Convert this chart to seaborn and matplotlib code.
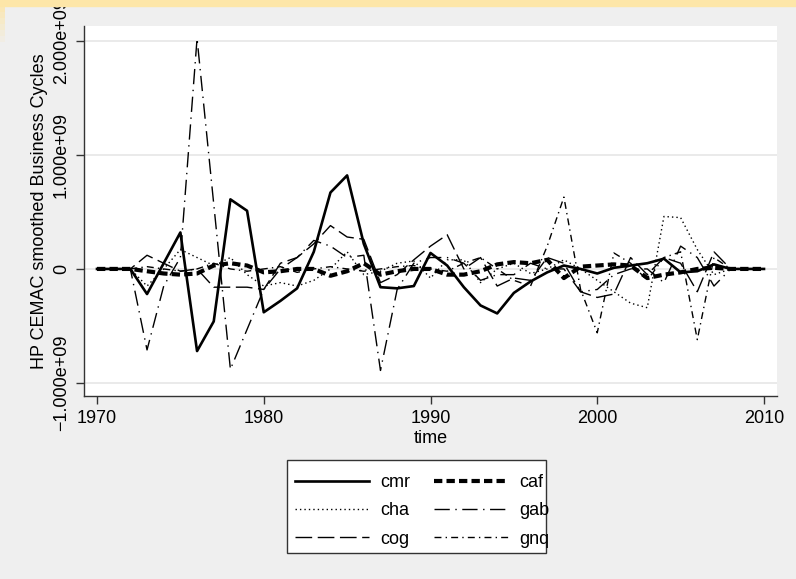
import numpy as np
import pandas as pd
import matplotlib
matplotlib.use("Agg")
import matplotlib.pyplot as plt
import seaborn as sns
from matplotlib.patches import Rectangle

years = list(range(1970, 2011))

# cycles in units of 1e9
cmr = [0, 0, 0, -0.22, 0.05, 0.32, -0.72, -0.46, 0.61, 0.51,
       -0.38, -0.28, -0.17, 0.15, 0.67, 0.82, 0.22, -0.16, -0.17, -0.15,
       0.14, 0.03, -0.16, -0.32, -0.39, -0.21, -0.11, -0.03, 0.03, 0.0,
       -0.04, 0.01, 0.03, 0.05, 0.09, -0.03, -0.02, 0.04, 0.0, 0.0, 0.0]
cha = [0, 0, 0, -0.15, 0.0, 0.17, 0.1, 0.03, 0.1, -0.05,
       -0.15, -0.12, -0.15, -0.1, 0.0, 0.15, -0.05, -0.02, 0.05, 0.07,
       -0.08, 0.08, 0.08, -0.12, 0.0, 0.05, -0.04, 0.0, 0.08, 0.0,
       -0.1, -0.2, -0.3, -0.34, 0.46, 0.45, 0.17, -0.05, 0.0, 0.0, 0.0]
cog = [0, 0, 0, 0.12, 0.05, -0.02, 0.0, -0.16, -0.16, -0.16,
       -0.18, 0.05, 0.1, 0.22, 0.38, 0.28, 0.26, -0.12, -0.05, 0.08,
       0.2, 0.3, 0.0, 0.1, -0.15, -0.08, -0.1, 0.1, 0.05, -0.2,
       -0.25, -0.22, 0.1, -0.05, 0.1, 0.05, -0.2, 0.15, 0.0, 0.0, 0.0]
caf = [0, 0, 0, -0.02, -0.04, -0.05, -0.04, 0.03, 0.05, 0.03,
       -0.03, -0.02, 0.0, 0.0, -0.06, -0.02, 0.05, -0.05, -0.02, 0.0,
       0.0, -0.05, -0.05, -0.02, 0.04, 0.06, 0.05, 0.08, -0.08, 0.02,
       0.03, 0.04, 0.03, -0.08, -0.05, -0.03, 0.0, 0.01, 0.0, 0.0, 0.0]
gab = [0, 0, 0, -0.71, -0.15, 0.1, 2.02, 0.57, -0.88, -0.53,
       -0.18, 0.0, 0.1, 0.25, 0.2, 0.1, 0.12, -0.89, -0.18, 0.05,
       0.1, 0.1, 0.05, -0.1, -0.05, -0.05, 0.05, 0.0, 0.0, -0.2,
       -0.18, -0.05, 0.0, 0.0, -0.12, 0.2, 0.1, -0.15, 0.0, 0.0, 0.0]
gnq = [0, 0, 0, 0.02, 0.0, -0.02, 0.0, 0.05, 0.0, -0.02,
       0.0, 0.02, -0.03, 0.0, 0.02, 0.0, -0.02, 0.0, 0.02, 0.03,
       0.0, -0.02, 0.05, 0.1, 0.0, -0.1, -0.15, 0.2, 0.63, -0.18,
       -0.56, 0.14, 0.05, -0.1, 0.1, 0.15, -0.62, 0.1, 0.0, 0.0, 0.0]

names = ["cmr", "cha", "cog", "caf", "gab", "gnq"]
series = [cmr, cha, cog, caf, gab, gnq]
widths = [1.9, 1.0, 1.0, 3.0, 1.0, 1.0]
styles = ["-", (0, (1, 2.2)), (0, (12, 4)), (0, (6, 3)),
          (0, (11, 4, 1, 4)), (0, (5, 3, 1, 3))]

plt.rcParams["font.family"] = ["Liberation Sans", "DejaVu Sans"]
plt.rcParams["lines.scale_dashes"] = False

fig = plt.figure(figsize=(7.96, 5.79), dpi=100, facecolor="#efefef")
ax = fig.add_axes([84 / 796, 1 - 396 / 579, 693 / 796, 370 / 579])
ax.set_facecolor("white")

for name, vals, lw, ls in zip(names, series, widths, styles):
    df = pd.DataFrame({"time": years, "v": np.array(vals) * 1e9})
    sns.lineplot(data=df, x="time", y="v", ax=ax, color="black",
                 linewidth=lw, linestyle=ls, label=name, legend=False)

ax.set_xlim(1969.22, 2010.78)
ax.set_ylim(-1.114e9, 2.13e9)
ax.set_xticks([1970, 1980, 1990, 2000, 2010])
yt = [-1e9, 0, 1e9, 2e9]
ax.set_yticks(yt)
ax.set_yticklabels(["\u22121.000e+09", "0", "1.000e+09", "2.000e+09"],
                   rotation=90, va="center")
ax.grid(axis="y", color="#e6e6e6", linewidth=1.2)
ax.set_axisbelow(True)
for s in ["top", "right"]:
    ax.spines[s].set_visible(False)
for s in ["left", "bottom"]:
    ax.spines[s].set_color("#333333")
    ax.spines[s].set_linewidth(1.0)
ax.tick_params(direction="out", length=6, width=1.0, color="#333333",
               labelsize=13, pad=4)
ax.set_xlabel("time", fontsize=13, labelpad=2)
ax.set_ylabel("HP CEMAC smoothed Business Cycles", fontsize=13, labelpad=4)

# legend box drawn by hand so it hugs the entries like Stata's
fig.patches.append(Rectangle((287 / 796, 1 - 553 / 579), 259 / 796, 93 / 579,
                             transform=fig.transFigure, facecolor="white",
                             edgecolor="#333333", linewidth=1.0, zorder=1))
handles, labels = ax.get_legend_handles_labels()
leg = fig.legend(handles, labels,
                 ncol=2, loc="upper left",
                 bbox_to_anchor=(287 / 796, 1 - 466 / 579),
                 borderaxespad=0,
                 fontsize=13, frameon=False,
                 handlelength=4.1, handletextpad=0.6, columnspacing=1.35,
                 labelspacing=0.62, borderpad=0.45)
leg.set_zorder(2)

# yellow strip at the top edge of the screenshot
fig.patches.append(Rectangle((0, 1 - 6 / 579), 1, 6 / 579,
                             transform=fig.transFigure, color="#fde6a8",
                             zorder=10))
for i in range(6):
    fig.patches.append(Rectangle((0, 1 - (12 + 6 * i) / 579), 5 / 796, 6 / 579,
                                 transform=fig.transFigure, color="#fde6a8",
                                 alpha=0.8 - 0.13 * i, zorder=10, lw=0))

fig.savefig("out.png", dpi=100, facecolor=fig.get_facecolor())
